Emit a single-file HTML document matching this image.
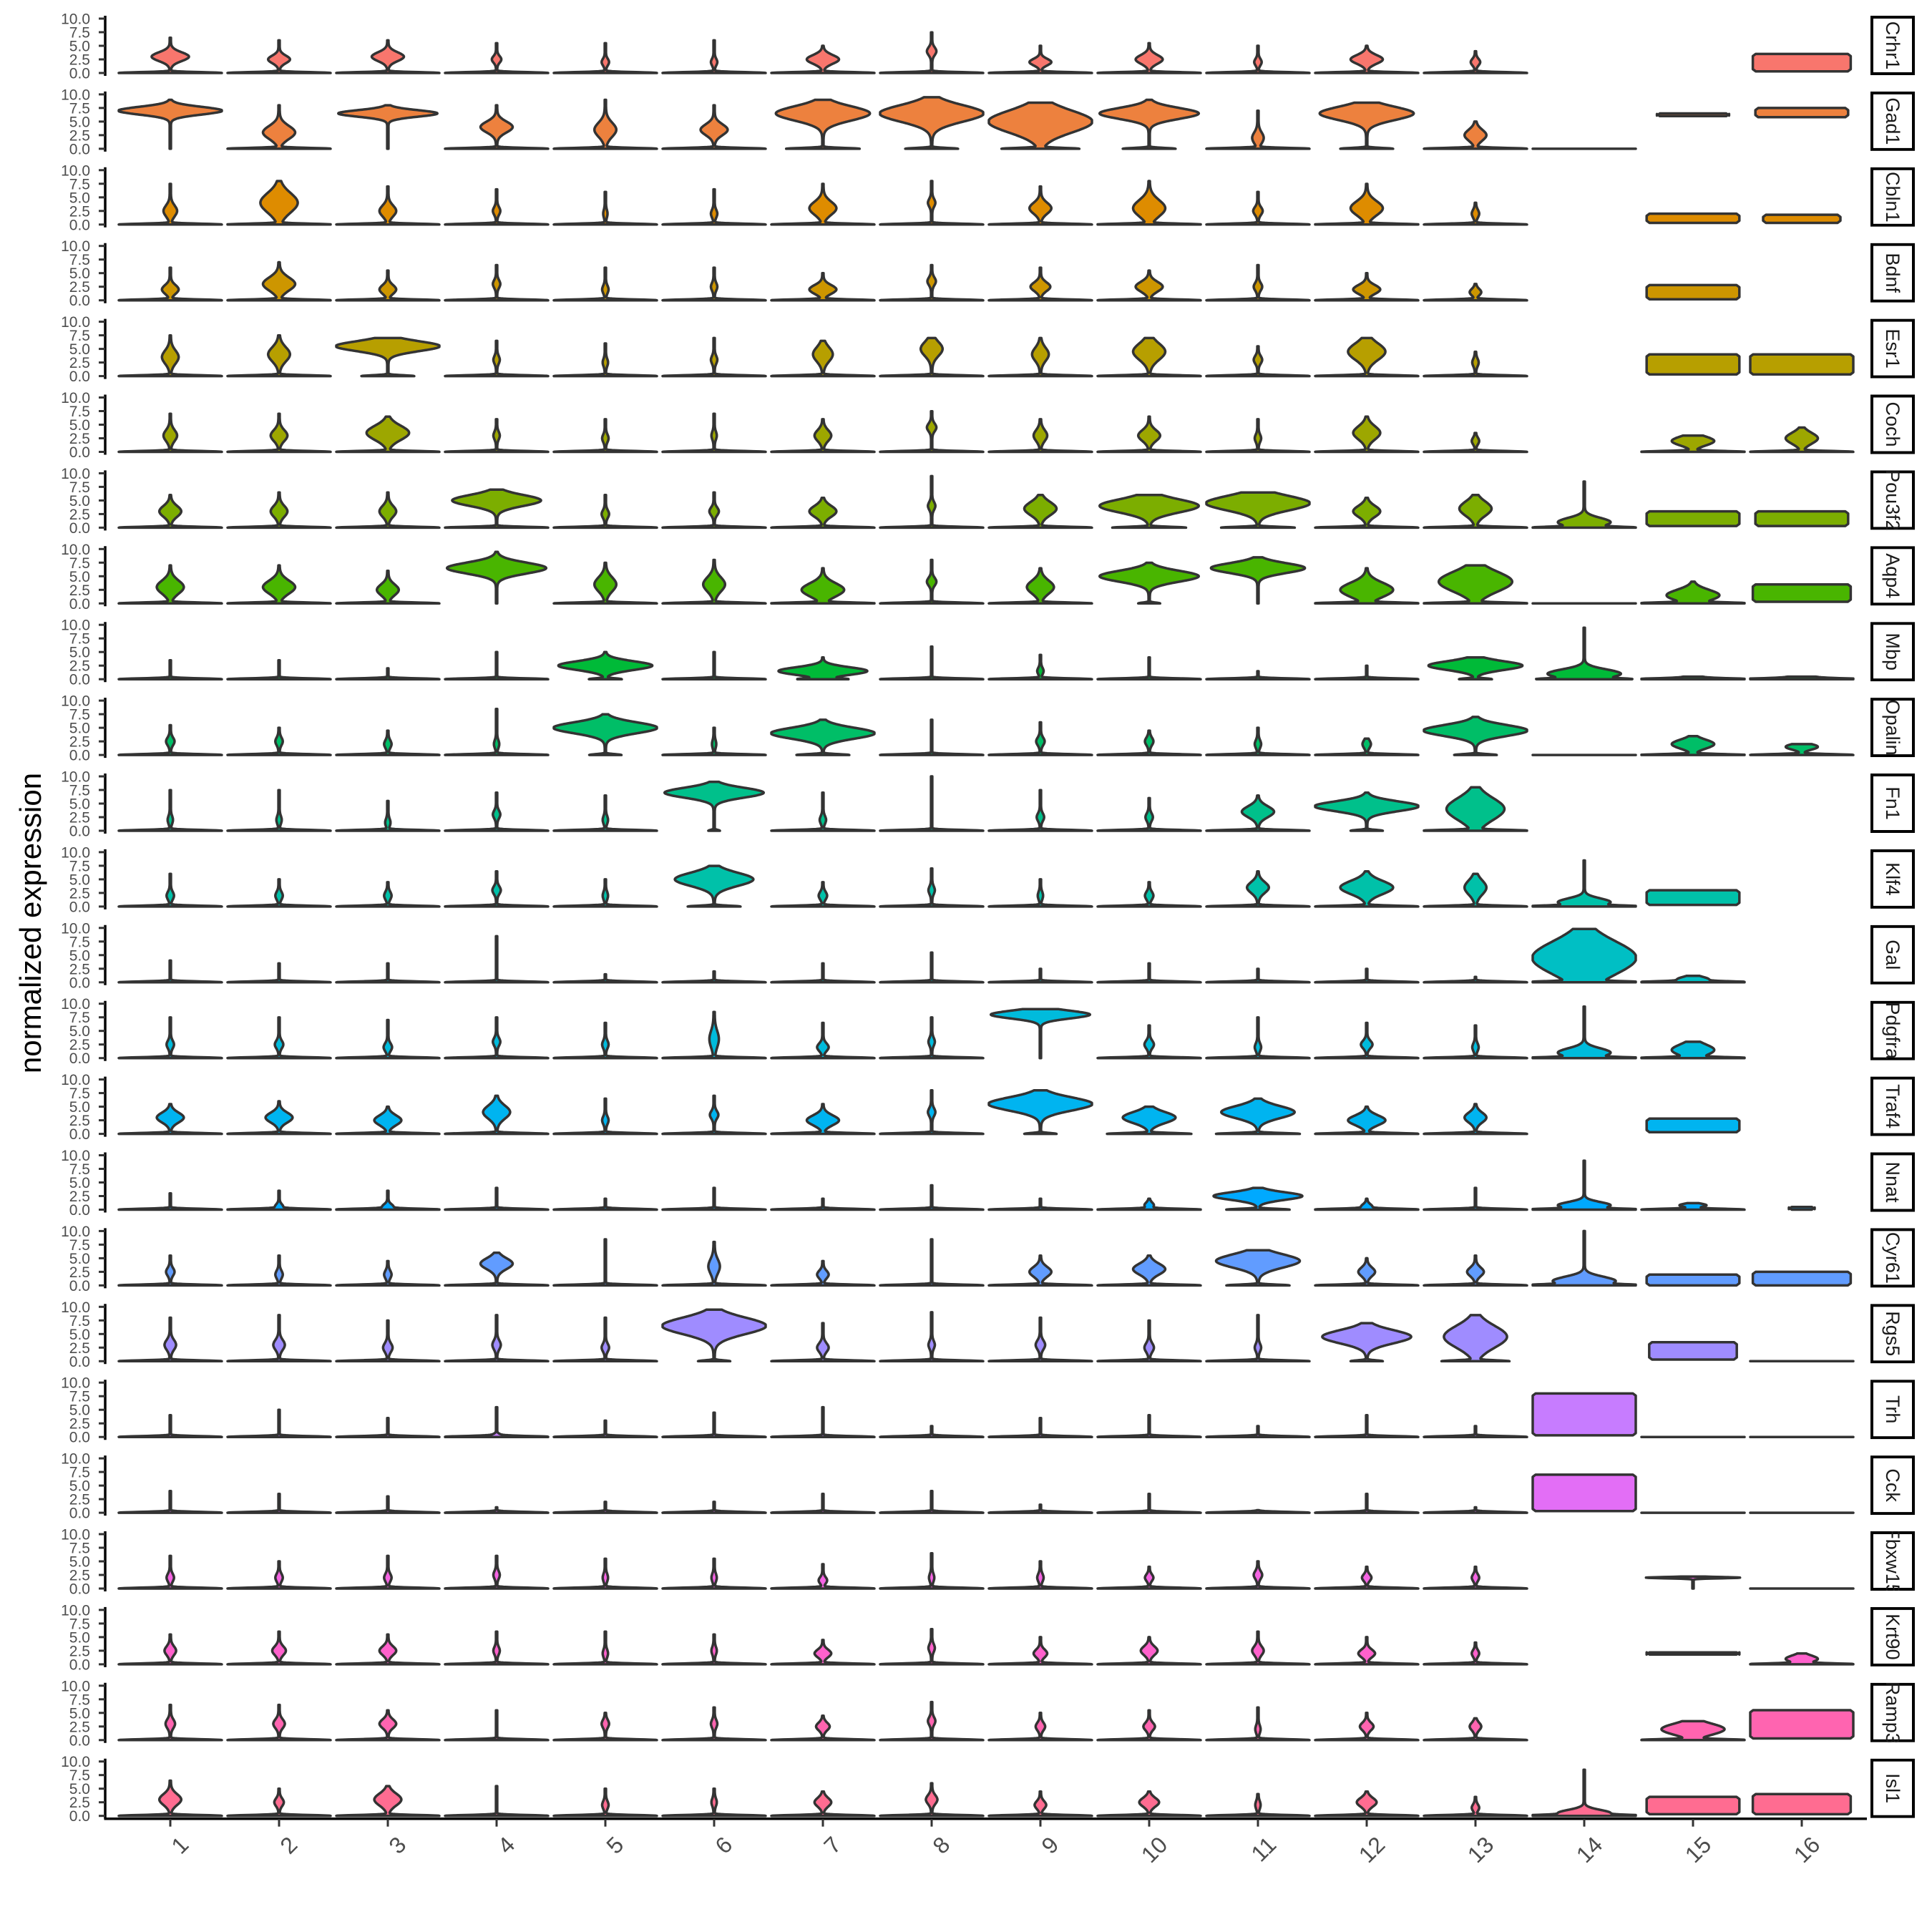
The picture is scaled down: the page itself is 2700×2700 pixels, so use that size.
<!DOCTYPE html>
<html><head><meta charset="utf-8"><style>
html,body{margin:0;padding:0;background:#fff;}
svg{display:block;}
text{font-family:"Liberation Sans",Arial,sans-serif;}
</style></head><body>
<svg id="s" width="2700" height="2700" viewBox="0 0 2700 2700" xmlns="http://www.w3.org/2000/svg"></svg>
<script>
(function(){
function hcl(h){var L=65,C=100,r=h*Math.PI/180,u=C*Math.cos(r),v=C*Math.sin(r);
var Xn=95.047,Yn=100,Zn=108.883,un=4*Xn/(Xn+15*Yn+3*Zn),vn=9*Yn/(Xn+15*Yn+3*Zn);
var Y=Yn*Math.pow((L+16)/116,3),up=u/(13*L)+un,vp=v/(13*L)+vn;
var X=Y*9*up/(4*vp),Z=Y*(12-3*up-20*vp)/(4*vp);X/=100;Y/=100;Z/=100;
var R=3.2406*X-1.5372*Y-0.4986*Z,G=-0.9689*X+1.8758*Y+0.0415*Z,B=0.0557*X-0.2040*Y+1.0570*Z;
function g(c){c=c<=0.0031308?12.92*c:1.055*Math.pow(c,1/2.4)-0.055;return Math.max(0,Math.min(255,Math.round(c*255)));}
return 'rgb('+g(R)+','+g(G)+','+g(B)+')';}
var genes=["Crhr1","Gad1","Cbln1","Bdnf","Esr1","Coch","Pou3f2","Aqp4","Mbp","Opalin","Fn1","Klf4","Gal","Pdgfra","Traf4","Nnat","Cyr61","Rgs5","Trh","Cck","Fbxw15","Krt90","Ramp3","Isl1"];
function B(lo,hi,w){return {B:[lo,hi,w]};}
var D=[
[[3,.35,.8,6.5],[2.5,.2,.7,6],[3,.3,.8,6],[2.5,.08,.6,5.5],[2,.06,.6,5.5],[2,.05,.6,6],[2.5,.3,.8,5],[4,.08,.7,7.5],[2,.2,.6,5],[2.5,.25,.8,5.5],[2,.06,.6,5],[2.5,.3,.8,5],[2,.08,.6,4],null,null,B(.3,3.5,.95)],
[[7,1,.7,9,0],[3,.3,1.2,8],[6.5,.95,.6,8,0],[4,.3,1,8],[3.5,.2,1.3,9],[3.5,.25,1,8],[6.5,.9,1.3,9,.7],[6.5,1,1.5,9.5,.5],[5,1,2,8.5,.7],[6.5,.95,1,9,.5],[2,.1,1,7],[6.5,.9,1.2,8.5,.5],[2.5,.2,1,5],'z',B(6,6.5,.7),B(5.8,7.5,.9)],
[[2.5,.12,1,7.5],[4,.35,1.8,8],[2.5,.15,1,7],[2.5,.06,.7,6.5],[2,.03,.7,6],[2,.05,.7,6.5],[3,.25,1.2,7.5],[4,.06,.7,8],[3,.2,1,7],[3,.3,1.5,8],[2.5,.08,.7,6],[3,.3,1.3,7.5],[2,.06,.7,4],null,B(.3,2,.9),B(.3,1.8,.75)],
[[2,.15,.8,6],[3,.3,1.2,7],[2,.15,.8,5.5],[3,.06,.7,6.5],[2,.05,.7,6],[2.5,.05,.7,6],[2,.25,.8,5],[3.5,.07,.7,6.5],[2.5,.18,.8,6],[2.5,.25,.9,5.5],[2.5,.07,.7,6.5],[2,.25,.8,5],[1.5,.1,.6,3],null,B(.2,2.8,.9),null],
[[3.5,.15,1.2,7.5],[4,.2,1.3,7.5],[5.5,1,.9,7,.5],[3,.05,.7,6.5],[2.5,.04,.7,6],[3,.05,.7,7],[4,.18,1.3,6.5],[5,.2,1.3,7],[4,.15,1.2,7],[4.5,.3,1.5,7],[3,.07,.7,5.5],[4.5,.35,1.5,7],[2.5,.05,.7,4.5],null,B(.3,4,.9),B(.3,4,1)],
[[3,.12,1,7],[3,.15,1,7],[3.5,.4,1.3,6.5],[3,.05,.7,6],[2.5,.05,.7,6],[3,.04,.7,7],[3,.15,1,6],[4.5,.08,.7,7.5],[3,.12,1,6],[3,.2,1,6.5],[2.5,.05,.7,6],[3.5,.25,1.2,6.5],[2,.06,.6,3.5],null,[2,.4,.8,3],[2.5,.3,1,4.5]],
[[3,.2,1,6],[3,.15,1,6.5],[3,.15,1,6.5],[5,.85,1,7],[2.5,.06,.7,6],[3,.08,.7,6.5],[3,.25,1,5.5],[4,.06,.7,9.5],[3.5,.3,1.2,6],[4,.95,1.2,6,.7],[4.5,1,1.3,6.5,.7],[3,.25,1,5.5],[3.5,.3,1.3,6],[1,.5,.8,8.5,.8],B(.3,3,.9),B(.3,3,.9)],
[[3,.25,1.2,7],[3,.3,1.2,7],[2.5,.2,1,6],[6.5,.95,1,9.5,0],[3.5,.2,1.3,7.5],[3.5,.2,1.3,8],[2.5,.4,1.2,6.5],[4,.08,.7,8],[3,.25,1.2,6.5],[5,.95,1,7.5,.2],[6.5,.9,.9,8.5,0],[2.5,.5,1.3,6.5],[4,.7,1.8,7],'z',[1.5,.5,1,4],B(.3,3.5,.95)],
[[0,0,1,3.5],[0,0,1,3.5],[0,0,1,2],[0,0,1,5],[2.5,.9,.8,5,.3],[0,0,1,5],[1.5,.85,.7,4,.4],[0,0,1,6],[1.5,.05,.6,4.5],[0,0,1,4],[0,0,1,1.5],[0,0,1,2.5],[2.5,.9,.8,4,.3],[1,.7,.8,9.5,.6],[.3,.2,.3,.5],[.3,.3,.3,.5]],
[[2.5,.07,.7,5.5],[2.5,.06,.7,5],[2,.06,.7,4.5],[2,.04,.7,8.5],[5,1,1,7.5,.3],[2,.03,.7,5],[4,1,1,6.5,.5],[0,0,1,6.5],[2.5,.07,.7,6],[2.5,.07,.7,4.5],[2,.05,.7,5],[2,.07,.7,3],[4.5,1,1,7,.4],'z',[2,.4,.8,3.5],[1.5,.3,.5,2]],
[[2,.04,.7,7.5],[2,.04,.7,7.5],[1.5,.04,.7,5.5],[3,.06,.7,7],[2,.04,.7,6.5],[7,.95,.9,9,.1],[2,.05,.7,7],[0,0,1,10],[2.5,.06,.7,7.5],[2.5,.06,.7,6],[3.5,.3,1,6.5],[4.5,1,.9,7,.3],[4,.55,2,8],null,null,null],
[[2,.06,.7,6],[2,.06,.7,5],[2,.06,.7,4.5],[3,.07,.7,6.5],[2,.04,.7,5],[5,.75,1.2,7.5,.5],[2,.07,.7,4.5],[3,.05,.7,7],[2,.04,.7,5],[2,.07,.7,4.5],[3.5,.2,1,6.5],[3.5,.5,1.2,6.5],[3.5,.2,1.3,6],[.8,.5,.7,8.5],B(.3,3,.9),null],
[[0,0,1,4],[0,0,1,3.5],[0,0,1,3.5],[0,0,1,8.5],[0,0,1,1.5],[0,0,1,2],[0,0,1,3.5],[0,0,1,5.5],[0,0,1,2.5],[0,0,1,3.5],[0,0,1,2.5],[0,0,1,2.5],[0,0,1,1],[4.5,1,3,9.8],[.5,.3,.5,1.2],null],
[[2.5,.06,.7,7.5],[2.5,.07,.7,7.5],[2,.07,.7,7],[3,.06,.7,7.5],[2.5,.05,.7,6.5],[3.5,.08,1.5,8.5],[2,.1,.7,6.5],[3,.05,.7,7.5],[8,.95,.7,9,0],[2.5,.08,.7,6],[2,.05,.7,7.5],[2.5,.1,.7,6.5],[2,.05,.7,6],[1,.5,.8,9.5],[1.5,.4,1,3],null],
[[3,.25,.9,5.5],[3,.25,.9,6],[2.5,.25,.9,5],[4,.25,1.2,7],[2.5,.05,.7,6.5],[3.5,.07,.7,7],[2.5,.3,.9,5.5],[4,.06,.7,8],[5.5,1,1.2,8,.3],[3,.5,1,5,.8],[4,.7,1.1,6.5,.8],[2.5,.35,.9,5],[3,.2,.9,5.5],null,B(.3,2.8,.9),null],
[[0,0,1,3],[.5,.07,.5,3.5],[.5,.1,.5,3.5],[0,0,1,4],[0,0,1,2],[0,0,1,4],[0,0,1,2],[0,0,1,4.5],[0,0,1,2],[.8,.08,.5,2],[2.5,.85,.7,4,.6],[.5,.1,.5,2],[0,0,1,4],[.8,.5,.6,9],[.8,.25,.3,1.2],B(0,.5,.25)],
[[2.5,.07,.7,5.5],[2,.06,.7,5.5],[2,.06,.7,4.5],[4,.3,1,6],[0,0,1,8.5],[3.5,.1,1.3,8],[2,.1,.7,4.5],[0,0,1,8.5],[2.5,.2,.9,5.5],[3,.3,1,5.5],[4.5,.8,1.2,6.5,.6],[2.5,.15,.8,5],[2.5,.15,.8,5.5],[.8,.6,.8,10],B(0,2,.9),B(0,2.5,.95)],
[[3,.1,.9,8],[3,.1,.9,8.5],[2.5,.08,.8,7.5],[3,.07,.8,8.5],[2.5,.06,.7,8],[6.5,1,1.5,9.5,.3],[2.5,.1,.8,7],[3,.05,.7,9],[3,.08,.8,8],[2.5,.08,.8,7.5],[2.5,.05,.7,8.5],[4.5,.85,1.2,7,.3],[4.5,.6,2,8.5,.6],null,B(.3,3.5,.85),'z'],
[[0,0,1,4],[0,0,1,5],[0,0,1,3.5],[.2,.1,.3,5.5],[0,0,1,3],[0,0,1,4.5],[0,0,1,5.5],[0,0,1,2],[0,0,1,3.5],[0,0,1,4],[0,0,1,2],[0,0,1,4],[0,0,1,2],B(.3,8,1),'z','z'],
[[0,0,1,4],[0,0,1,3.5],[0,0,1,3],[0,0,1,1],[0,0,1,2],[0,0,1,2],[0,0,1,3.5],[0,0,1,4],[0,0,1,1.5],[0,0,1,3.5],[0,0,1,.5],[0,0,1,3.5],[0,0,1,1],B(.3,7,1),'z','z'],
[[2,.06,.7,6],[2,.06,.7,5],[2,.06,.7,6],[2.5,.05,.7,6],[2,.04,.7,5.5],[2,.04,.7,5.5],[1.5,.07,.6,4.5],[2,.04,.7,6.5],[2,.05,.7,5],[2,.07,.6,4],[2.5,.07,.7,5],[2,.08,.6,4],[2,.06,.6,4],null,[2,.9,.12,2.2,0],'z'],
[[2.5,.1,.8,5.5],[2.5,.12,.8,6],[2.5,.15,.8,5.5],[2.5,.05,.7,6],[2,.04,.7,6],[2.5,.04,.7,5.5],[2,.15,.7,4.5],[3,.05,.7,6.5],[2,.12,.7,5],[2.5,.15,.8,5],[2.5,.1,.8,6],[2,.15,.7,5],[2,.06,.6,4],null,B(1.8,2.2,.9),[1,.3,.6,2]],
[[3,.08,.8,6.5],[3,.1,.8,6.5],[3,.15,.8,5.5],[0,0,1,5.5],[3,.06,.7,5],[3,.05,.7,6],[2.5,.12,.7,4.5],[3.5,.06,.7,7],[2.5,.08,.7,5],[2.5,.1,.7,5.5],[2,.04,.7,6],[2.5,.12,.7,5],[2.5,.1,.7,4],null,[2,.6,1,3.5],B(.3,5.5,1)],
[[3,.2,1,6.5],[2.5,.08,.7,5],[3,.25,1.1,5.5],[0,0,1,5.5],[2,.05,.7,5],[2.5,.04,.7,5],[2.5,.15,.8,4.5],[3,.1,.8,6],[2,.1,.7,4.5],[2.5,.18,.8,4.5],[2,.04,.7,4],[2.5,.18,.8,4.5],[1.5,.06,.6,3.5],[.5,.5,.6,8.5],B(.3,3.5,.9),B(.3,4,.95)]
];
var svg=document.getElementById('s');
var AX=147,X0=238,DX=152,W=72,P0=102,DP=105.9,U=7.6;
var out='';
for(var i=0;i<24;i++){
 var y0=P0+i*DP,col=hcl(15+360*i/24);
 for(var j=0;j<16;j++){
  var c=D[i][j];if(c===null)continue;var cx=X0+j*DX;var pts;
  if(c==='z'){out+='<line x1="'+(cx-W)+'" y1="'+y0+'" x2="'+(cx+W)+'" y2="'+y0+'" stroke="#333" stroke-width="3.5" stroke-linecap="round"/>';continue;}
  if(c.B){var lo=c.B[0],hi=c.B[1],hw=W*c.B[2];
   var ya=y0-lo*U,yb2=y0-hi*U;
   pts=[[cx-hw+4,ya],[cx-hw,ya-3],[cx-hw,yb2+3],[cx-hw+4,yb2],[cx+hw-4,yb2],[cx+hw,yb2+3],[cx+hw,ya-3],[cx+hw-4,ya]];
  } else {
   var m=c[0],w=c[1],s=c[2],tp=c[3],b=c.length>4?c[4]:1;
   pts=[];var left=[];
   for(var yv=0;yv<=tp+1e-9;yv+=0.04){
    var h=b*Math.exp(-Math.pow(yv/0.22,2))+w*Math.exp(-0.5*Math.pow((yv-m)/s,2))+0.012;
    if(h>1)h=1;var yy=y0-yv*U;pts.push([cx+h*W,yy]);left.push([cx-h*W,yy]);
   }
   pts=pts.concat(left.reverse());
  }
  out+='<polygon points="'+pts.map(function(p){return p[0].toFixed(1)+','+p[1].toFixed(1)}).join(' ')+'" fill="'+col+'" stroke="#333" stroke-width="3.5" stroke-linejoin="round"/>';
 }
 out+='<line x1="'+AX+'" y1="'+(y0-10*U-4)+'" x2="'+AX+'" y2="'+(y0+4)+'" stroke="#000" stroke-width="3.5"/>';
 var labs=['0.0','2.5','5.0','7.5','10.0'];
 for(var k=0;k<5;k++){var ty=y0-k*2.5*U;
  out+='<line x1="'+(AX-9)+'" y1="'+ty+'" x2="'+AX+'" y2="'+ty+'" stroke="#333" stroke-width="3"/>';
  out+='<text x="126" y="'+(ty+7.5)+'" font-size="21" fill="#4d4d4d" text-anchor="end">'+labs[k]+'</text>';}
 var sy=y0-10*U-4,sh=83;
 out+='<svg x="2614" y="'+sy+'" width="62" height="'+sh+'"><rect x="2" y="2" width="58" height="'+(sh-4)+'" fill="#fff" stroke="#000" stroke-width="4"/><text transform="translate(22,'+(sh/2)+') rotate(90)" font-size="27" fill="#1a1a1a" text-anchor="middle">'+genes[i]+'</text></svg>';
}
var yb=P0+23*DP+4;
out+='<line x1="'+(AX-1.5)+'" y1="'+yb+'" x2="2609" y2="'+yb+'" stroke="#000" stroke-width="3.5"/>';
for(var j=0;j<16;j++){var cx=X0+j*DX;
 out+='<line x1="'+cx+'" y1="'+yb+'" x2="'+cx+'" y2="'+(yb+11)+'" stroke="#333" stroke-width="3"/>';
 out+='<text transform="translate('+(cx+11)+','+(yb+22)+') rotate(-45)" font-size="32" fill="#4d4d4d" text-anchor="end" dominant-baseline="hanging">'+(j+1)+'</text>';}
out+='<text transform="translate(57,1290) rotate(-90)" font-size="42" fill="#000" text-anchor="middle">normalized expression</text>';
svg.innerHTML=out;
})();
</script>
</body></html>
